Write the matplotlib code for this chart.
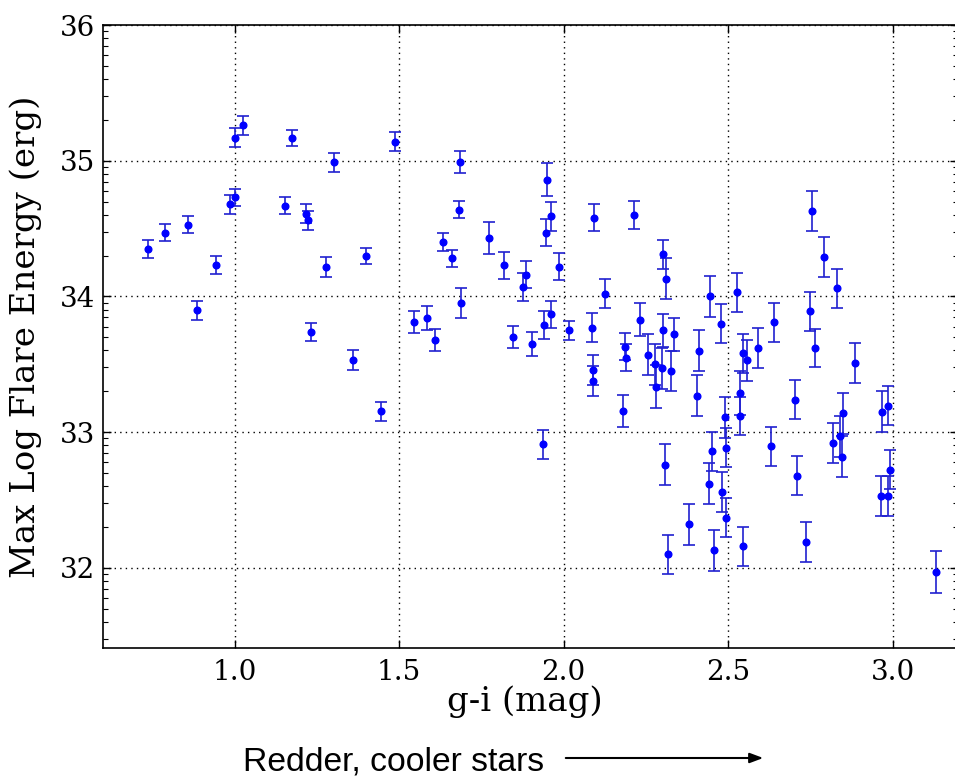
import numpy as np
import matplotlib
matplotlib.use("Agg")
import matplotlib.pyplot as plt
from matplotlib.ticker import FixedLocator

# g-i colour (mag)
gi = [0.736, 0.789, 0.858, 0.885, 0.942, 0.985, 1.000, 1.000, 1.025, 1.152,
      1.174, 1.218, 1.222, 1.233, 1.279, 1.301, 1.360, 1.400, 1.446, 1.489,
      1.545, 1.584, 1.608, 1.635, 1.661, 1.681, 1.684, 1.688, 1.773, 1.820,
      1.846, 1.876, 1.885, 1.904, 1.937, 1.942, 1.946, 1.951, 1.963, 1.963,
      1.986, 2.016, 2.085, 2.089, 2.089, 2.094, 2.125, 2.182, 2.186, 2.190,
      2.213, 2.233, 2.256, 2.277, 2.280, 2.300, 2.302, 2.302, 2.309, 2.310,
      2.318, 2.327, 2.337, 2.380, 2.406, 2.413, 2.441, 2.445, 2.452, 2.456,
      2.479, 2.483, 2.491, 2.495, 2.495, 2.526, 2.537, 2.537, 2.545, 2.545,
      2.557, 2.591, 2.631, 2.641, 2.702, 2.710, 2.737, 2.750, 2.754, 2.765,
      2.791, 2.819, 2.832, 2.839, 2.846, 2.849, 2.885, 2.966, 2.969, 2.986,
      2.986, 2.993, 3.131]

# max log flare energy (erg)
log_energy = [34.35, 34.47, 34.53, 33.90, 34.23, 34.68, 34.73, 35.17, 35.26, 34.67,
              35.17, 34.61, 34.56, 33.74, 34.22, 34.99, 33.53, 34.30, 33.155, 35.14,
              33.81, 33.84, 33.68, 34.40, 34.28, 34.64, 34.99, 33.95, 34.43, 34.23,
              33.70, 34.07, 34.16, 33.65, 32.91, 33.79, 34.47, 34.86, 34.59, 33.87,
              34.22, 33.75, 33.77, 33.46, 33.38, 34.58, 34.02, 33.155, 33.63, 33.55,
              34.60, 33.83, 33.57, 33.50, 33.335, 33.47, 34.31, 33.75, 32.76, 34.13,
              32.10, 33.45, 33.72, 32.32, 33.27, 33.60, 32.62, 34.00, 32.86, 32.13,
              33.80, 32.56, 33.11, 32.885, 32.37, 34.03, 33.29, 33.12, 33.58, 32.16,
              33.53, 33.62, 32.895, 33.81, 33.24, 32.68, 32.19, 33.89, 34.63, 33.62,
              34.29, 32.92, 34.06, 32.97, 32.82, 33.14, 33.51, 32.53, 33.15, 33.195,
              32.53, 32.725, 31.97]

# error (dex)
energy_err = [0.065, 0.063, 0.06, 0.07, 0.065, 0.07, 0.06, 0.068, 0.068, 0.06,
              0.06, 0.07, 0.07, 0.065, 0.074, 0.07, 0.075, 0.06, 0.07, 0.07,
              0.08, 0.09, 0.08, 0.065, 0.063, 0.065, 0.08, 0.11, 0.12, 0.10,
              0.08, 0.10, 0.10, 0.09, 0.108, 0.10, 0.10, 0.12, 0.105, 0.10,
              0.10, 0.07, 0.107, 0.11, 0.11, 0.10, 0.107, 0.12, 0.10, 0.10,
              0.10, 0.12, 0.15, 0.15, 0.16, 0.15, 0.108, 0.12, 0.15, 0.15,
              0.145, 0.15, 0.12, 0.15, 0.15, 0.15, 0.15, 0.15, 0.145, 0.15,
              0.144, 0.145, 0.15, 0.145, 0.145, 0.146, 0.16, 0.14, 0.145, 0.145,
              0.15, 0.145, 0.145, 0.144, 0.145, 0.145, 0.15, 0.145, 0.145, 0.14,
              0.15, 0.145, 0.145, 0.15, 0.15, 0.15, 0.15, 0.15, 0.15, 0.145,
              0.15, 0.145, 0.155]

x_ticks = [1.0, 1.5, 2.0, 2.5, 3.0]
y_ticks = [32, 33, 34, 35, 36]

plt.rcParams['font.family'] = ['DejaVu Serif']

fig = plt.figure(figsize=(9.55, 7.82), dpi=100)
ax = fig.add_axes([103/955, 1-648/782, (958-103)/955, (648-25)/782])

ax.errorbar(gi, log_energy, yerr=energy_err, fmt='o', color='#0000ff',
            ecolor='#2020d0', markersize=4.8, elinewidth=1.2, capsize=4.5,
            capthick=1.2)

ax.set_xlim(0.6, 3.199)
ax.set_ylim(31.41, 36.0)
ax.set_xticks(x_ticks)
ax.set_xticklabels([f"{t:.1f}" for t in x_ticks])
ax.set_yticks(y_ticks)
ax.set_yticklabels([str(t) for t in y_ticks])
minor = [n + np.log10(k) for n in range(31, 36) for k in range(2, 10)]
ax.yaxis.set_minor_locator(FixedLocator(minor))

ax.tick_params(which='both', direction='in', top=True, right=True, labelsize=20)
ax.tick_params(which='major', length=6, width=1)
ax.tick_params(which='minor', length=3.5, width=0.8)
ax.tick_params(axis='x', pad=8)
ax.tick_params(axis='y', pad=6)
for s in ax.spines.values():
    s.set_linewidth(1.2)

ax.grid(True, which='major', color='k', linestyle=(0, (1, 3)), linewidth=1)

ax.set_xlabel('g-i (mag)', fontsize=24.5)
ax.set_ylabel('Max Log Flare Energy (erg)', fontsize=24.5)
ax.xaxis.set_label_coords(0.493, -0.060)
ax.yaxis.set_label_coords(-0.071, 0.5)

fig.text(243/955, 1-762/782, 'Redder, cooler stars', fontsize=24.3,
         family=['Liberation Sans'], va='center', ha='left')
fig.add_artist(matplotlib.patches.FancyArrowPatch(
    (563/955, 1-758/782), (766/955, 1-758/782), transform=fig.transFigure,
    arrowstyle='-|>,head_length=8,head_width=3', color='k', lw=1.5,
    mutation_scale=1))

fig.savefig('out.png', dpi=100)
